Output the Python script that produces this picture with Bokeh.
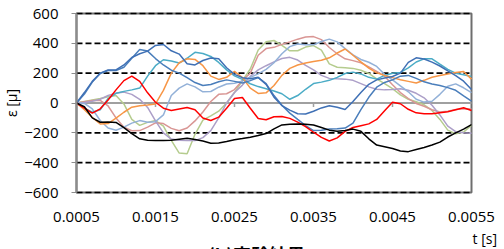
from bokeh.plotting import figure
from bokeh.models import FixedTicker, Range1d, PrintfTickFormatter, Label
from bokeh.embed import file_html
from bokeh.resources import INLINE
from math import pi

# time samples [s]
t = [0.0005, 0.0006, 0.0007, 0.0008, 0.0009, 0.0010, 0.0011, 0.0012, 0.0013, 0.0014,
     0.0015, 0.0016, 0.0017, 0.0018, 0.0019, 0.0020, 0.0021, 0.0022, 0.0023, 0.0024,
     0.0025, 0.0026, 0.0027, 0.0028, 0.0029, 0.0030, 0.0031, 0.0032, 0.0033, 0.0034,
     0.0035, 0.0036, 0.0037, 0.0038, 0.0039, 0.0040, 0.0041, 0.0042, 0.0043, 0.0044,
     0.0045, 0.0046, 0.0047, 0.0048, 0.0049, 0.0050, 0.0051, 0.0052, 0.0053, 0.0054,
     0.0055]

# strain series [micro]
blue_a = [0, 60, 140, 198, 218, 218, 240, 300, 358, 348, 298, 255, 220, 200, 170, 137, 117, 124, 142, 155,
          145, 134, 150, 170, 130, 50, -15, -68, -110, -151, -185, -182, -175, -173, -168, -135, -45, 38, 106, 138,
          155, 180, 185, 165, 142, 127, 117, 103, 85, 48, 12]
blue_b = [0, 70, 145, 200, 222, 222, 255, 305, 330, 348, 386, 392, 350, 328, 263, 255, 285, 302, 296, 236,
          192, 170, 162, 172, 125, 39, -17, -48, -72, -74, -55, -33, -18, -28, -44, 10, 70, 125, 155, 168,
          178, 200, 272, 303, 295, 274, 248, 215, 183, 146, 90]
pink = [0, 8, 16, 18, -20, -100, -162, -186, -185, -162, -133, -138, -170, -186, -168, -120, -60, 10, 58, 62,
        90, 151, 200, 320, 365, 373, 393, 410, 428, 442, 445, 425, 372, 330, 296, 284, 270, 242, 212, 180,
        122, 70, 30, -3, -22, -45, -60, -55, -44, -38, -40]
light_green = [0, 10, 20, 30, 42, 50, -6, -110, -150, -130, -118, -155, -250, -336, -340, -210, -115, -86, -55, 0,
               70, 150, 228, 355, 410, 419, 386, 350, 350, 375, 385, 355, 262, 240, 236, 232, 220, 198, 162, 130,
               96, 55, 25, 8, -12, -50, -110, -182, -207, -195, -148]
light_purple = [0, 4, 12, 25, 50, 65, 73, 58, 25, -30, -120, -200, -242, -250, -252, -252, -232, -185, -100, 0,
                70, 120, 178, 222, 250, 276, 298, 306, 288, 252, 222, 185, 165, 162, 160, 152, 130, 108, 92, 88,
                90, 95, 85, 65, 35, -15, -80, -155, -192, -200, -202]
teal = [0, -35, -62, -45, 30, 65, 78, 88, 100, 180, 250, 290, 282, 268, 300, 340, 332, 312, 272, 222,
        182, 158, 129, 110, 95, 80, 62, 25, 50, 92, 130, 140, 152, 172, 198, 207, 195, 172, 160, 185,
        200, 205, 235, 275, 296, 296, 260, 225, 200, 190, 178]
orange = [0, -45, -97, -140, -138, -102, -62, -28, -18, -13, -6, 85, 200, 270, 296, 292, 250, 180, 158, 172,
          212, 170, 100, 64, 68, 117, 185, 232, 255, 268, 278, 286, 303, 335, 362, 320, 276, 234, 202, 185,
          170, 156, 145, 134, 152, 173, 184, 195, 204, 211, 160]
light_blue = [0, -3, -40, -117, -168, -183, -162, -135, -118, -129, -125, -80, 50, 100, 128, 108, 75, 77, 106, 127,
              133, 148, 172, 195, 225, 270, 330, 378, 396, 390, 390, 412, 428, 410, 365, 323, 292, 273, 245, 192,
              155, 115, 75, 25, 6, 12, 58, 112, 128, 102, 70]
red = [0, -35, -68, -39, 20, 88, 150, 180, 145, 68, 5, -35, -50, -40, -30, -45, -100, -117, -95, -35,
       30, 37, -35, -104, -112, -92, -90, -103, -128, -158, -196, -230, -255, -234, -190, -164, -152, -140, -110, -52,
       5, -5, -42, -66, -72, -72, -65, -58, -45, -32, -50]
black = [0, -25, -100, -129, -128, -130, -165, -205, -240, -250, -252, -252, -250, -243, -236, -245, -255, -270, -268, -258,
         -246, -238, -229, -218, -205, -173, -147, -142, -140, -142, -147, -164, -182, -190, -184, -175, -190, -240, -282, -293,
         -305, -322, -326, -312, -298, -282, -262, -228, -200, -175, -145]

series = [
    (light_green, "#B5CC8E"),
    (pink, "#D99694"),
    (light_purple, "#AC9FC8"),
    (light_blue, "#93B1D8"),
    (teal, "#4BACC6"),
    (orange, "#F79646"),
    (blue_a, "#4A7EBB"),
    (blue_b, "#3F70B5"),
    (red, "#FF0000"),
    (black, "#000000"),
]

x_ticks = [0.0005, 0.0015, 0.0025, 0.0035, 0.0045, 0.0055]
x_tick_labels = ["0.0005", "0.0015", "0.0025", "0.0035", "0.0045", "0.0055"]
y_ticks = [-600, -400, -200, 0, 200, 400, 600]
y_grid_values = [-600, -400, -200, 200, 400, 600]

x_title = "t [s]"
y_title = "ε [μ]"
caption = "(b)実験結果"

FONT = "Open Sans"

# plot box in pixels inside the 504 x 249 canvas
W, H = 504, 249
BOX_L, BOX_R, BOX_T, BOX_B = 76, 471, 13, 192

x_min, x_max = x_ticks[0], x_ticks[-1]
y_min, y_max = y_ticks[0], y_ticks[-1]
ux = (x_max - x_min) / (BOX_R - BOX_L)      # data units per pixel
uy = (y_max - y_min) / (BOX_B - BOX_T)

p = figure(width=W, height=H, output_backend="svg", toolbar_location=None,
           x_range=Range1d(x_min - BOX_L * ux, x_max + (W - BOX_R) * ux),
           y_range=Range1d(y_min - (H - BOX_B) * uy, y_max + BOX_T * uy),
           min_border=0, min_border_left=0, min_border_right=0, min_border_top=0, min_border_bottom=0,
           background_fill_color="white", border_fill_color="white")
p.outline_line_color = None
p.xgrid.visible = False
p.ygrid.visible = False

# plot box border
p.quad(left=[x_min], right=[x_max], bottom=[y_min], top=[y_max],
       fill_color=None, line_color="#6E6E6E", line_width=2, level="underlay")

# dashed grid lines inside the box
n = len(y_grid_values)
p.segment(x0=[x_min] * n, y0=y_grid_values, x1=[x_max] * n, y1=y_grid_values,
          line_color="black", line_dash="6 3", line_width=1.6, level="underlay")

# zero line and its tick marks
p.segment(x0=[x_min], y0=[0], x1=[x_max], y1=[0], line_color="#A0A0A0", line_width=2, level="underlay")
p.segment(x0=x_ticks[1:-1], y0=[0] * 4, x1=x_ticks[1:-1], y1=[-4 * uy] * 4,
          line_color="#A0A0A0", line_width=1.5, level="underlay")

for vals, col in series:
    p.line(t, vals, line_color=col, line_width=1.5)

# y axis fixed at the left edge of the box
p.yaxis.fixed_location = x_min
p.yaxis.bounds = (y_min, y_max)
p.yaxis.ticker = FixedTicker(ticks=y_ticks)
p.yaxis.axis_line_color = "#8C8C8C"
p.yaxis.axis_line_width = 2
p.yaxis.major_tick_line_color = "#8C8C8C"
p.yaxis.major_tick_out = 5
p.yaxis.major_tick_in = 0
p.yaxis.minor_tick_line_color = None
p.yaxis.major_label_standoff = 13
p.yaxis.major_label_text_font = FONT
p.yaxis.major_label_text_font_size = "15px"
p.yaxis.major_label_text_color = "black"

# x axis labels fixed at the bottom edge of the box
p.xaxis.fixed_location = y_min
p.xaxis.bounds = (x_min, x_max)
p.xaxis.ticker = FixedTicker(ticks=x_ticks)
p.xaxis.formatter = PrintfTickFormatter(format="%.4f")
p.xaxis.major_label_overrides = dict(zip(x_ticks, x_tick_labels))
p.xaxis.axis_line_color = None
p.xaxis.major_tick_line_color = None
p.xaxis.minor_tick_line_color = None
p.xaxis.major_tick_out = 0
p.xaxis.major_tick_in = 0
p.xaxis.major_label_standoff = 19
p.xaxis.major_label_text_font = FONT
p.xaxis.major_label_text_font_size = "15px"
p.xaxis.major_label_text_color = "black"

# texts
p.add_layout(Label(x=x_min - 65 * ux, y=0, text=y_title, angle=pi / 2,
                   text_align="center", text_baseline="middle",
                   text_font=FONT, text_font_size="14px", text_color="black"))
p.add_layout(Label(x=x_max + 1 * ux, y=y_min - 46 * uy, text=x_title,
                   text_align="left", text_baseline="middle",
                   text_font=FONT, text_font_size="14px", text_color="black"))
p.add_layout(Label(x=x_min + 180 * ux, y=y_min - 48 * uy, text=caption,
                   text_align="center", text_baseline="top",
                   text_font="Noto Sans CJK JP", text_font_style="bold",
                   text_font_size="18px", text_color="black"))

open("out.html", "w").write(file_html(p, INLINE))
